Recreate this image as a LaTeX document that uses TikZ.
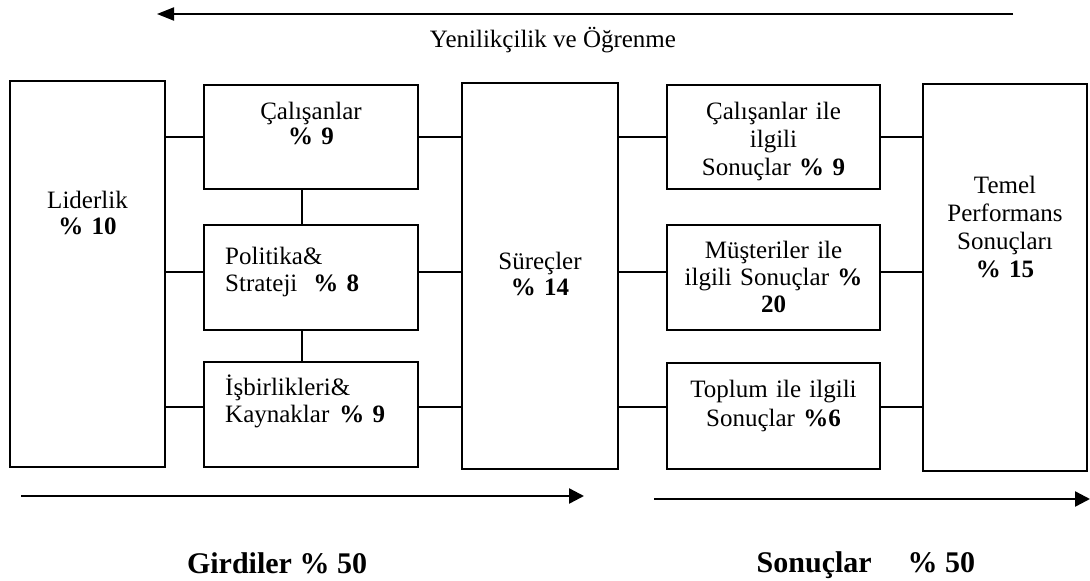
\documentclass[tikz,border=0pt]{standalone}
\usepackage{fontspec}
\setmainfont{Liberation Serif}
\usetikzlibrary{arrows.meta}
\begin{document}
\begin{tikzpicture}[x=1pt,y=-1pt,
  box/.style={draw,line width=1.5pt,inner sep=0pt},
  link/.style={line width=1.5pt},
  txt/.style n args={2}{font=\fontsize{25}{#2}\selectfont,inner sep=0pt,
    align=center,text width=#1,anchor=base},
  ltxt/.style n args={2}{font=\fontsize{25}{#2}\selectfont,inner sep=0pt,
    align=left,text width=#1,anchor=base west},
  big/.style={font=\fontsize{30}{34}\selectfont\bfseries,inner sep=0pt,anchor=base},
  flow/.style={line width=2.4pt,-{Triangle[length=15pt,width=15pt]}}
]
\useasboundingbox (0,0) rectangle (1090,581);

% columns of boxes
\node[box,minimum width=155pt,minimum height=386pt] (lid) at (87.5,274) {};
\node[box,minimum width=214pt,minimum height=104pt] (cal) at (311,137) {};
\node[box,minimum width=214pt,minimum height=105pt] (pol) at (311,277.5) {};
\node[box,minimum width=214pt,minimum height=105pt] (isb) at (311,414.5) {};
\node[box,minimum width=156pt,minimum height=386pt] (sur) at (540,276) {};
\node[box,minimum width=213pt,minimum height=104pt] (rc1) at (773.5,137) {};
\node[box,minimum width=213pt,minimum height=105pt] (rc2) at (773.5,277.5) {};
\node[box,minimum width=213pt,minimum height=106pt] (rc3) at (773.5,416) {};
\node[box,minimum width=164pt,minimum height=387pt] (tem) at (1005,277.5) {};

% box texts
\node[txt={150pt}{26pt}] (lidT) at (87.5,208) {Liderlik\\\textbf{\% 10}};
\node[txt={200pt}{25pt}] (calT) at (311,119) {Çalışanlar\\\textbf{\% 9}};
\node[ltxt={190pt}{27pt}] (polT) at (225,264) {Politika\&\\Strateji\hspace{16pt}\textbf{\% 8}};
\node[ltxt={190pt}{27pt}] (isbT) at (225,395) {İşbirlikleri\&\\Kaynaklar\hspace{10pt}\textbf{\% 9}};
\node[txt={150pt}{26pt}] (surT) at (540,269) {Süreçler\\\textbf{\% 14}};
\node[txt={205pt}{28pt}] (rc1T) at (773.5,119) {Çalışanlar ile\\ilgili\\Sonuçlar \textbf{\% 9}};
\node[txt={205pt}{27pt}] (rc2T) at (773.5,258) {Müşteriler ile\\ilgili Sonuçlar \textbf{\%}\\\textbf{20}};
\node[txt={205pt}{29pt}] (rc3T) at (773.5,397) {Toplum ile ilgili\\Sonuçlar \textbf{\%6}};
\node[txt={160pt}{28pt}] (temT) at (1005,193) {Temel\\Performans\\Sonuçları\\\textbf{\% 15}};

% connector rows
\coordinate (row1) at (0,137);
\coordinate (row2) at (0,272);
\coordinate (row3) at (0,407);
\coordinate (vcol) at (302,0);

\draw[link] (lid.east |- row1) -- (cal.west |- row1);
\draw[link] (lid.east |- row2) -- (pol.west |- row2);
\draw[link] (lid.east |- row3) -- (isb.west |- row3);
\draw[link] (cal.south -| vcol) -- (pol.north -| vcol);
\draw[link] (pol.south -| vcol) -- (isb.north -| vcol);
\draw[link] (cal.east |- row1) -- (sur.west |- row1);
\draw[link] (pol.east |- row2) -- (sur.west |- row2);
\draw[link] (isb.east |- row3) -- (sur.west |- row3);
\draw[link] (sur.east |- row1) -- (rc1.west |- row1);
\draw[link] (sur.east |- row2) -- (rc2.west |- row2);
\draw[link] (sur.east |- row3) -- (rc3.west |- row3);
\draw[link] (rc1.east |- row1) -- (tem.west |- row1);
\draw[link] (rc2.east |- row2) -- (tem.west |- row2);
\draw[link] (rc3.east |- row3) -- (tem.west |- row3);

% feedback arrow on top
\coordinate (fbS) at (1013,14);
\coordinate (fbE) at (157,14);
\draw[line width=2pt,-{Triangle[length=17pt,width=13pt]}] (fbS) -- (fbE);
\node[font=\fontsize{25}{26}\selectfont,inner sep=0pt,anchor=base] (fbT) at (553,47) {Yenilikçilik ve Öğrenme};

% flow arrows below
\coordinate (inS) at (21,496);
\coordinate (inE) at (584,496);
\coordinate (outS) at (654,499);
\coordinate (outE) at (1090,499);
\draw[flow] (inS) -- (inE);
\draw[flow] (outS) -- (outE);

\node[big] (girT) at (277,573) {Girdiler \% 50};
\node[big] (sonT) at (866,572) {Sonuçlar\hspace{1.2em}\% 50};
\end{tikzpicture}
\end{document}
